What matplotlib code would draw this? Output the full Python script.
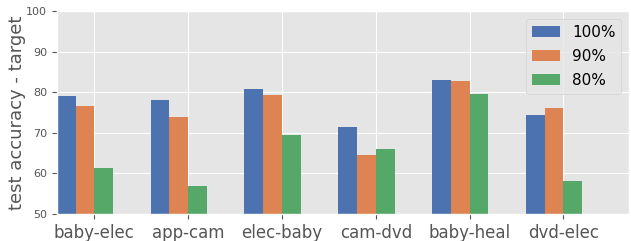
import numpy as np
import matplotlib
matplotlib.use("Agg")
import matplotlib.pyplot as plt

plt.style.use("ggplot")

categories = ["baby-elec", "app-cam", "elec-baby", "cam-dvd", "baby-heal", "dvd-elec"]
acc_100 = [79.1, 78.1, 80.8, 71.4, 83.0, 74.4]
acc_90 = [76.6, 73.9, 79.3, 64.5, 82.8, 76.1]
acc_80 = [61.3, 56.9, 69.5, 66.0, 79.6, 58.1]
labels = ["100%", "90%", "80%"]
colors = ["#4C72B0", "#DD8452", "#55A868"]

fig = plt.figure(figsize=(6.31, 2.41), dpi=100)
ax = fig.add_axes([0.09, 0.112, 0.907, 0.842])

x = np.arange(len(categories))
w = 0.2
for k, (vals, lab, c) in enumerate(zip([acc_100, acc_90, acc_80], labels, colors)):
    ax.bar(x + (k - 1.5) * w, vals, w, label=lab, color=c)

ax.set_ylim(50, 100)
ax.set_xlim(-0.4, 5.7)
ax.set_xticks(x)
ax.set_xticklabels(categories, fontsize=12)
ax.tick_params(axis="y", labelsize=8)
ax.set_ylabel("test accuracy - target", fontsize=13, color="#555555", labelpad=0)
leg = ax.legend(loc="upper right", fontsize=11, handlelength=1.8, labelspacing=0.6)
leg.get_frame().set_facecolor("#E5E5E5")
leg.get_frame().set_edgecolor("#CCCCCC")

fig.savefig("out.png", dpi=100)
